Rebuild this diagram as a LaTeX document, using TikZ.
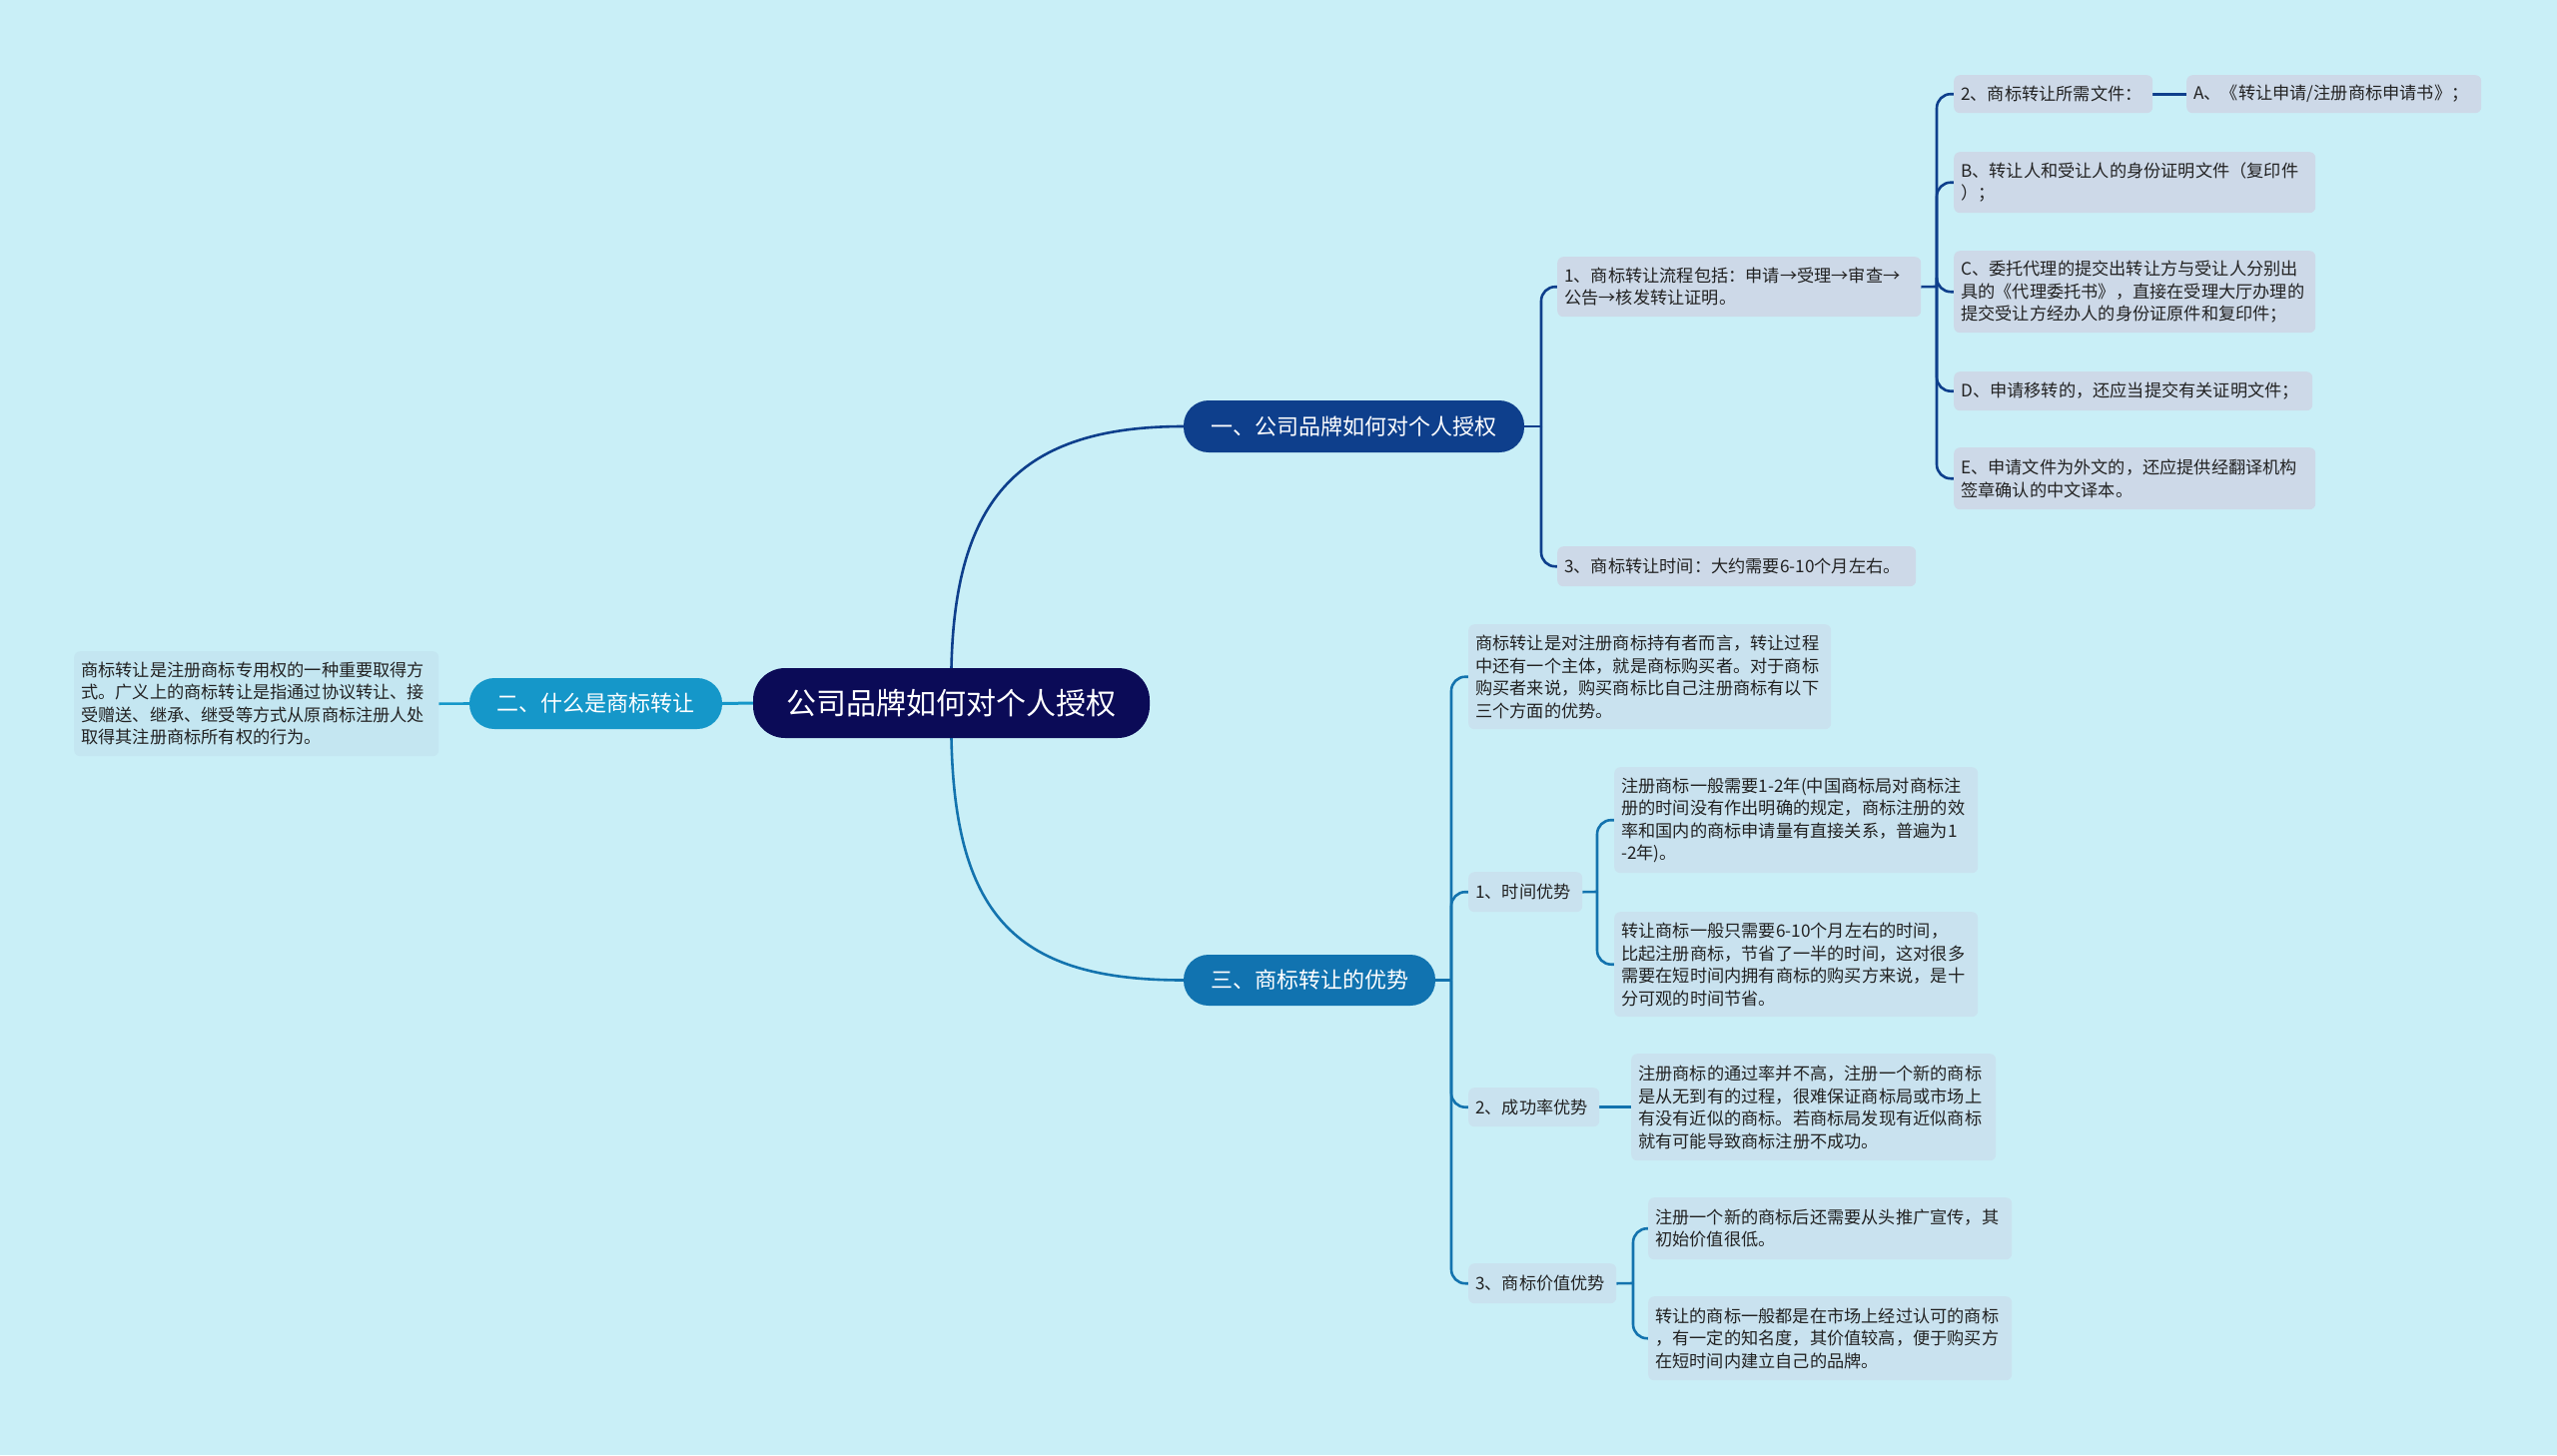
\documentclass[tikz,border=0pt]{standalone}
\usepackage{fontspec}
\setmainfont{Noto Sans CJK SC}
\usetikzlibrary{backgrounds}
\definecolor{bgc}{HTML}{C9EFF7}
\definecolor{cfill}{HTML}{0B0B57}
\definecolor{onefill}{HTML}{0E3F8C}
\definecolor{twofill}{HTML}{1597C9}
\definecolor{threefill}{HTML}{1173B0}
\definecolor{leafu}{HTML}{CDD9E8}
\definecolor{leafl}{HTML}{C9E2EF}
\definecolor{leafd}{HTML}{C4E6F1}
\definecolor{lineone}{HTML}{0E3F8C}
\definecolor{linethree}{HTML}{1373AE}
\definecolor{linetwo}{HTML}{1597C9}
\definecolor{txt}{HTML}{222222}
\hyphenpenalty=10000
\exhyphenpenalty=10000
\newcommand\leafbox[7]{%
  \pgfmathsetmacro\lbW{#5-#3}%
  \pgfmathsetmacro\lbH{#6-#4}%
  \pgfmathsetmacro\lbT{#5-#3-14}%
  \node[#2, anchor=north west, minimum width=\lbW pt, minimum height=\lbH pt, text width=\lbT pt] (#1) at (#3,#4) {#7};}
\begin{document}
\begin{tikzpicture}[x=1pt,y=-1pt,
  leafbase/.style={rectangle, rounded corners=6pt, inner xsep=7pt, inner ysep=4pt, align=left, text=txt,
     font=\fontsize{17.2pt}{22.5pt}\selectfont},
  leafU/.style={leafbase, fill=leafu},
  leafL/.style={leafbase, fill=leafl},
  leafD/.style={leafbase, fill=leafd},
  mainnode/.style={rectangle, rounded corners=25pt, text=white, inner sep=0pt, align=center},
  conn/.style={line width=2.6pt, rounded corners=14pt},
]
\useasboundingbox (0,0) rectangle (2560,1457);

% main nodes
\node[mainnode, fill=cfill, minimum width=397pt, minimum height=70pt, rounded corners=32pt,
      font=\fontsize{30pt}{35pt}\selectfont] (center) at (952.5,704) {公司品牌如何对个人授权};
\node[mainnode, fill=onefill, minimum width=341pt, minimum height=52pt,
      font=\fontsize{22pt}{26pt}\selectfont] (one) at (1355.5,427) {一、公司品牌如何对个人授权};
\node[mainnode, fill=twofill, minimum width=253pt, minimum height=51pt,
      font=\fontsize{22pt}{26pt}\selectfont] (two) at (596.5,704.5) {二、什么是商标转让};
\node[mainnode, fill=threefill, minimum width=252pt, minimum height=51pt,
      font=\fontsize{22pt}{26pt}\selectfont] (three) at (1311,981.5) {三、商标转让的优势};

% branch one
\leafbox{n1}{leafU}{1559}{257}{1923}{317}{1、商标转让流程包括：申请→受理→审查→\\公告→核发转让证明。}
\leafbox{n3}{leafU}{1559}{547}{1918}{587}{3、商标转让时间：大约需要6-10个月左右。}
\leafbox{n2}{leafU}{1956}{75}{2155}{113}{2、商标转让所需文件：}
\leafbox{nA}{leafU}{2189}{75}{2484}{113}{A、《转让申请/注册商标申请书》；}
\leafbox{nB}{leafU}{1956}{152}{2318}{213}{B、转让人和受让人的身份证明文件（复印件\\）；}
\leafbox{nC}{leafU}{1956}{251}{2318}{333}{C、委托代理的提交出转让方与受让人分别出\\具的《代理委托书》，直接在受理大厅办理的\\提交受让方经办人的身份证原件和复印件；}
\leafbox{nD}{leafU}{1956}{372}{2315}{411}{D、申请移转的，还应当提交有关证明文件；}
\leafbox{nE}{leafU}{1956}{448}{2318}{510}{E、申请文件为外文的，还应提供经翻译机构\\签章确认的中文译本。}

% branch two
\leafbox{def}{leafD}{74}{652}{439}{757}{商标转让是注册商标专用权的一种重要取得方\\式。广义上的商标转让是指通过协议转让、接\\受赠送、继承、继受等方式从原商标注册人处\\取得其注册商标所有权的行为。}

% branch three
\leafbox{intro}{leafL}{1470}{625}{1833}{730}{商标转让是对注册商标持有者而言，转让过程\\中还有一个主体，就是商标购买者。对于商标\\购买者来说，购买商标比自己注册商标有以下\\三个方面的优势。}
\leafbox{t1}{leafL}{1470}{873}{1584}{913}{1、时间优势}
\leafbox{t1a}{leafL}{1616}{768}{1980}{874}{注册商标一般需要1-2年(中国商标局对商标注\\册的时间没有作出明确的规定，商标注册的效\\率和国内的商标申请量有直接关系，普遍为1\\-2年)。}
\leafbox{t1b}{leafL}{1616}{913}{1980}{1018}{转让商标一般只需要6-10个月左右的时间，\\比起注册商标，节省了一半的时间，这对很多\\需要在短时间内拥有商标的购买方来说，是十\\分可观的时间节省。}
\leafbox{s2}{leafL}{1470}{1089}{1601}{1128}{2、成功率优势}
\leafbox{s2a}{leafL}{1633}{1055}{1998}{1162}{注册商标的通过率并不高，注册一个新的商标\\是从无到有的过程，很难保证商标局或市场上\\有没有近似的商标。若商标局发现有近似商标\\就有可能导致商标注册不成功。}
\leafbox{v3}{leafL}{1470}{1265}{1618}{1305}{3、商标价值优势}
\leafbox{v3a}{leafL}{1650}{1199}{2014}{1261}{注册一个新的商标后还需要从头推广宣传，其\\初始价值很低。}
\leafbox{v3b}{leafL}{1650}{1298}{2014}{1382}{转让的商标一般都是在市场上经过认可的商标\\，有一定的知名度，其价值较高，便于购买方\\在短时间内建立自己的品牌。}

\begin{scope}[on background layer]
\fill[bgc] (0,0) rectangle (2560,1457);
% center connectors
\draw[lineone, line width=2.6pt] (center.north) .. controls (956,500) and (1020,427) .. (one.west);
\draw[linethree, line width=2.6pt] (center.south) .. controls (956,920) and (1020,981.5) .. (three.west);
\draw[linetwo, line width=3pt] (center.west) -- (two.east);
\draw[linetwo, line width=2.6pt] (two.west) -- (def.east);
% branch one
\coordinate (b1) at (1543,427);
\draw[lineone, conn] (one.east) -- (b1);
\foreach \c in {n1,n3} \draw[lineone, conn] (b1) |- (\c.west);
\coordinate (b2) at (1939,287);
\draw[lineone, conn] (n1.east) -- (b2);
\foreach \c in {n2,nB,nC,nD,nE} \draw[lineone, conn] (b2) |- (\c.west);
\draw[lineone, conn] (n2.east) -- (nA.west);
% branch three
\coordinate (b3) at (1453,981.5);
\draw[linethree, conn] (three.east) -- (b3);
\foreach \c in {intro,t1,s2,v3} \draw[linethree, conn] (b3) |- (\c.west);
\coordinate (b4) at (1599,893);
\draw[linethree, conn] (t1.east) -- (b4);
\foreach \c in {t1a,t1b} \draw[linethree, conn] (b4) |- (\c.west);
\draw[linethree, conn] (s2.east) -- (s2a.west);
\coordinate (b5) at (1635,1285);
\draw[linethree, conn] (v3.east) -- (b5);
\foreach \c in {v3a,v3b} \draw[linethree, conn] (b5) |- (\c.west);
\end{scope}
\end{tikzpicture}
\end{document}
